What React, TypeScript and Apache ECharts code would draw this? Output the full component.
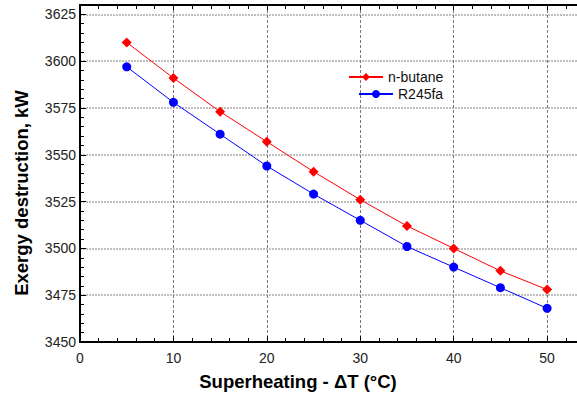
import React, { useEffect, useRef } from "react";
import * as echarts from "echarts";

const superheating = [5, 10, 15, 20, 25, 30, 35, 40, 45, 50];
const nButane = [3610, 3591, 3573, 3557, 3541, 3526, 3512, 3500, 3488, 3478];
const r245fa = [3597, 3578, 3561, 3544, 3529, 3515, 3501, 3490, 3479, 3468];

const FONT = "Liberation Sans, Arial, sans-serif";

export default function App() {
  const ref = useRef<HTMLDivElement>(null);
  useEffect(() => {
    if (!ref.current) return;
    const chart = echarts.init(ref.current, undefined, { renderer: "svg" });
    const axisLine = { show: true, lineStyle: { color: "#000", width: 2 } };
    chart.setOption({
      animation: false,
      backgroundColor: "#fff",
      grid: { left: 80, right: 0, top: 5, bottom: 53.5, containLabel: false },
      legend: [
        {
          data: ["n-butane"],
          left: 343,
          top: 65,
          itemWidth: 34,
          itemHeight: 10,
          itemGap: 4,
          textStyle: { fontFamily: FONT, fontSize: 14, color: "#111" },
        },
        {
          data: ["R245fa"],
          left: 353,
          top: 82,
          itemWidth: 34,
          itemHeight: 10,
          itemGap: 4,
          textStyle: { fontFamily: FONT, fontSize: 14, color: "#111" },
        },
      ],
      xAxis: [
        {
          type: "value",
          position: "bottom",
          min: 0,
          max: 53.2,
          interval: 10,
          axisLine,
          axisTick: { show: true, inside: true, length: 6, lineStyle: { color: "#000" } },
          minorTick: { show: true, splitNumber: 5, length: 4, lineStyle: { color: "#000" } },
          splitLine: { show: true, lineStyle: { color: "#777", type: [3, 2], width: 1 } },
          axisLabel: {
            fontFamily: FONT,
            fontSize: 14,
            color: "#222",
            margin: 9,
            showMaxLabel: false,
          },
          name: "Superheating - ΔT (°C)",
          nameLocation: "middle",
          nameGap: 30,
          nameTextStyle: {
            fontFamily: FONT,
            fontSize: 18.5,
            fontWeight: "bold",
            color: "#000",
            padding: [0, 61, 0, 0],
          },
        },
        {
          type: "value",
          position: "top",
          min: 0,
          max: 53.2,
          interval: 10,
          axisLine,
          axisTick: { show: true, inside: true, length: 5, lineStyle: { color: "#000" } },
          minorTick: { show: true, splitNumber: 5, length: 4, lineStyle: { color: "#000" } },
          splitLine: { show: false },
          axisLabel: { show: false },
        },
      ],
      yAxis: {
        type: "value",
        min: 3450,
        max: 3630,
        interval: 25,
        axisLine,
        axisTick: { show: true, inside: true, length: 6, lineStyle: { color: "#000" } },
        minorTick: { show: true, splitNumber: 5, length: 4, lineStyle: { color: "#000" } },
        splitLine: { show: true, lineStyle: { color: "#aaaaaa", type: [2, 1], width: 1.5 } },
        axisLabel: {
          fontFamily: FONT,
          fontSize: 14,
          color: "#222",
          margin: 4,
          showMaxLabel: false,
          formatter: (v: number) => String(v),
        },
        name: "Exergy destruction, kW",
        nameLocation: "middle",
        nameGap: 49,
        nameRotate: 90,
        nameTextStyle: {
          fontFamily: FONT,
          fontSize: 18.5,
          fontWeight: "bold",
          color: "#000",
          padding: [0, 39, 0, 0],
        },
      },
      series: [
        {
          name: "n-butane",
          type: "line",
          xAxisIndex: 0,
          data: superheating.map((x, i) => [x, nButane[i]]),
          symbol: "diamond",
          symbolSize: 10,
          showAllSymbol: true,
          lineStyle: { color: "#ff0000", width: 1 },
          itemStyle: { color: "#ff0000" },
        },
        {
          name: "R245fa",
          type: "line",
          xAxisIndex: 0,
          data: superheating.map((x, i) => [x, r245fa[i]]),
          symbol: "circle",
          symbolSize: 9,
          showAllSymbol: true,
          lineStyle: { color: "#0000ff", width: 1 },
          itemStyle: { color: "#0000ff" },
        },
      ],
    });
    return () => chart.dispose();
  }, []);
  return <div ref={ref} style={{ width: 577, height: 396, position: "absolute", left: 0, top: 0 }} />;
}
